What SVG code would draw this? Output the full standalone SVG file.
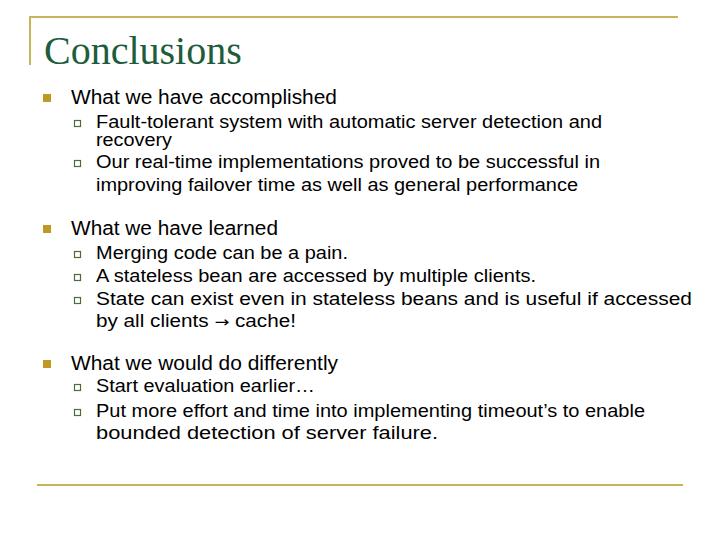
<svg xmlns="http://www.w3.org/2000/svg" width="720" height="540" viewBox="0 0 720 540">
<style>
.t{font-family:"Liberation Serif",serif;font-size:40px;fill:#1d5c3c}
.l1{font-family:"Liberation Sans",sans-serif;font-size:19.5px;fill:#000}
.l2{font-family:"Liberation Sans",sans-serif;font-size:17.5px;fill:#000}
.b1{fill:#c09a20}
.b2{fill:#fff;stroke:#4f6a3a;stroke-width:1.2}
.fr{stroke:#c8b45a;stroke-width:2;fill:none}
</style>
<rect width="720" height="540" fill="#fff"/>
<path class="fr" d="M30,65V17H678"/>
<path class="fr" d="M37,485H683"/>
<text class="t" x="44" y="64">Conclusions</text>
<g id="s1">
<rect class="b1" x="43" y="94" width="8" height="8"/>
<text class="l1" x="71" y="104" textLength="266" lengthAdjust="spacingAndGlyphs">What we have accomplished</text>
<rect class="b2" x="74.5" y="120.5" width="6" height="6"/>
<text class="l2" x="96" y="128" textLength="506" lengthAdjust="spacingAndGlyphs">Fault-tolerant system with automatic server detection and</text>
<text class="l2" x="96" y="146" textLength="76" lengthAdjust="spacingAndGlyphs">recovery</text>
<rect class="b2" x="74.5" y="160.5" width="6" height="6"/>
<text class="l2" x="96" y="168" textLength="504" lengthAdjust="spacingAndGlyphs">Our real-time implementations proved to be successful in</text>
<text class="l2" x="96" y="191" textLength="482" lengthAdjust="spacingAndGlyphs">improving failover time as well as general performance</text>
</g>
<g id="s2">
<rect class="b1" x="43" y="225" width="8" height="8"/>
<text class="l1" x="71" y="235" textLength="207" lengthAdjust="spacingAndGlyphs">What we have learned</text>
<rect class="b2" x="74.5" y="251.5" width="6" height="6"/>
<text class="l2" x="96" y="259" textLength="252" lengthAdjust="spacingAndGlyphs">Merging code can be a pain.</text>
<rect class="b2" x="74.5" y="274.5" width="6" height="6"/>
<text class="l2" x="96" y="282" textLength="440" lengthAdjust="spacingAndGlyphs">A stateless bean are accessed by multiple clients.</text>
<rect class="b2" x="74.5" y="297.5" width="6" height="6"/>
<text class="l2" x="96" y="305" textLength="596" lengthAdjust="spacingAndGlyphs">State can exist even in stateless beans and is useful if accessed</text>
<text class="l2" x="96" y="327" textLength="200" lengthAdjust="spacingAndGlyphs">by all clients <tspan font-family="DejaVu Sans" font-size="15">→</tspan> cache!</text>
</g>
<g id="s3">
<rect class="b1" x="43" y="360" width="8" height="8"/>
<text class="l1" x="71" y="370" textLength="267" lengthAdjust="spacingAndGlyphs">What we would do differently</text>
<rect class="b2" x="74.5" y="384.5" width="6" height="6"/>
<text class="l2" x="96" y="392" textLength="219" lengthAdjust="spacingAndGlyphs">Start evaluation earlier…</text>
<rect class="b2" x="74.5" y="409.5" width="6" height="6"/>
<text class="l2" x="96" y="417" textLength="549" lengthAdjust="spacingAndGlyphs">Put more effort and time into implementing timeout’s to enable</text>
<text class="l2" x="96" y="439" textLength="342" lengthAdjust="spacingAndGlyphs">bounded detection of server failure.</text>
</g>
</svg>
